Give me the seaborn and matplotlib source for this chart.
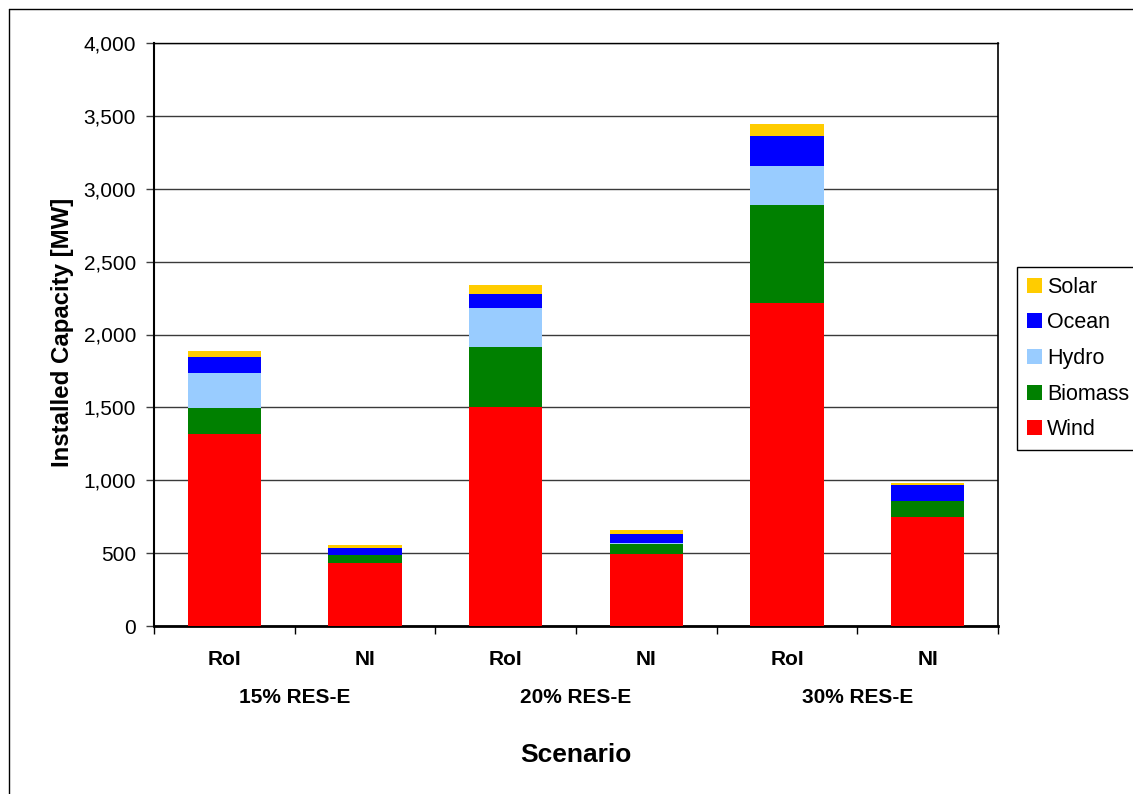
import numpy as np
import pandas as pd
import matplotlib
matplotlib.use("Agg")
import matplotlib.pyplot as plt
import matplotlib.transforms as mtransforms
from matplotlib.patches import Patch
from matplotlib.lines import Line2D
from matplotlib.ticker import FuncFormatter
import seaborn as sns

# Installed renewable capacity [MW] per scenario and region
scenarios = ["15% RES-E", "20% RES-E", "30% RES-E"]
regions = ["RoI", "NI"]
wind = [1320, 430, 1500, 495, 2215, 750]
biomass = [175, 55, 415, 70, 675, 105]
hydro = [240, 5, 265, 7, 265, 3]
ocean = [110, 45, 100, 62, 210, 108]
solar = [45, 24, 57, 23, 80, 18]

technologies = ["Wind", "Biomass", "Hydro", "Ocean", "Solar"]
colors = {
    "Wind": "#FF0000",
    "Biomass": "#008000",
    "Hydro": "#99CCFF",
    "Ocean": "#0000FF",
    "Solar": "#FFCC00",
}

sns.set_theme(style="white")
plt.rcParams["font.family"] = ["Liberation Sans", "DejaVu Sans"]
plt.rcParams["text.color"] = "black"
plt.rcParams["axes.labelcolor"] = "black"

bars = [f"{s} {r}" for s in scenarios for r in regions]
df = pd.DataFrame({"Wind": wind, "Biomass": biomass, "Hydro": hydro,
                   "Ocean": ocean, "Solar": solar})
stack = df[technologies].cumsum(axis=1)
stack["bar"] = bars

W, H = 1133, 794
fig = plt.figure(figsize=(W / 100, H / 100), dpi=100)
ax = fig.add_axes([154 / W, 1 - 626 / H, 844 / W, 583 / H])

# stacked bars: draw cumulative totals from the top layer down
for tech in reversed(technologies):
    sns.barplot(data=stack, x="bar", y=tech, order=bars, color=colors[tech],
                width=0.52, linewidth=0, saturation=1, errorbar=None,
                ax=ax, zorder=3)

ax.set_xlim(-0.5, 5.5)
ax.set_ylim(0, 4000)
ax.set_yticks(np.arange(0, 4001, 500))
ax.yaxis.set_major_formatter(FuncFormatter(lambda v, p: f"{int(v):,}"))
ax.set_axisbelow(True)
ax.yaxis.grid(True, color="#3a3a3a", lw=1)
ax.xaxis.grid(False)

ax.tick_params(axis="y", left=True, direction="out", length=6, width=1,
               color="#404040", labelsize=15, pad=7, labelcolor="black")
ax.set_xticks(range(len(bars)))
ax.set_xticklabels(regions * len(scenarios), fontweight="bold", fontsize=15)
ax.tick_params(axis="x", which="major", length=0, pad=17.5, labelcolor="black")
ax.set_xticks(np.arange(-0.5, len(bars), 1), minor=True)
ax.tick_params(axis="x", which="minor", bottom=True, direction="out",
               length=6, width=1, color="black")

for side, lw in [("left", 1.5), ("bottom", 2.0), ("right", 1.2), ("top", 1.0)]:
    ax.spines[side].set_visible(True)
    ax.spines[side].set_color("black")
    ax.spines[side].set_linewidth(lw)

# scenario group labels under each pair of bars
trans = mtransforms.blended_transform_factory(ax.transData, ax.transAxes)
for i, s in enumerate(scenarios):
    ax.text(2 * i + 0.5, -0.123, s, transform=trans, ha="center", va="center",
            fontsize=15, fontweight="bold")

ax.set_xlabel("Scenario", fontsize=19, fontweight="bold")
ax.xaxis.set_label_coords(0.5, -0.2)
ax.set_ylabel("Installed Capacity [MW]", fontsize=17.3, fontweight="bold")
ax.yaxis.set_label_coords(-0.095, 0.504)

handles = [Patch(facecolor=colors[t], edgecolor="none", label=t)
           for t in reversed(technologies)]
leg = fig.legend(handles=handles, loc="upper left",
                 bbox_to_anchor=(1017 / W, 1 - 267 / H), frameon=True,
                 fancybox=False, shadow=False, framealpha=1,
                 edgecolor="black", fontsize=15.5, handlelength=0.7,
                 handleheight=0.7, handletextpad=0.25, labelspacing=0.68,
                 borderpad=0.45, borderaxespad=0)
leg.get_frame().set_linewidth(1)

# outer chart border
fig.add_artist(Line2D([8.5 / W, 8.5 / W], [0, 1 - 8.5 / H],
                      transform=fig.transFigure, color="black", lw=1))
fig.add_artist(Line2D([8.5 / W, 1], [1 - 8.5 / H, 1 - 8.5 / H],
                      transform=fig.transFigure, color="black", lw=1))

fig.savefig("out.png", dpi=100)
